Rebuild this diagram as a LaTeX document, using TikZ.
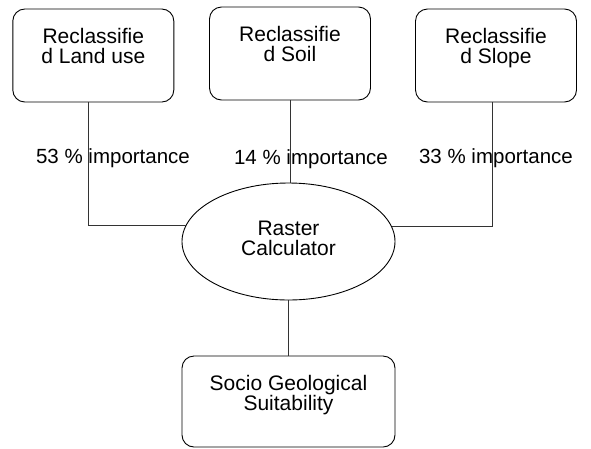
\documentclass[tikz,border=0pt]{standalone}
\usepackage{fontspec}
\setmainfont{Liberation Sans}
\usetikzlibrary{shapes.geometric,positioning}

\begin{document}
\begin{tikzpicture}[x=1pt,y=-1pt,
  box/.style={draw,rounded corners=12pt,minimum width=161pt,minimum height=93pt,line width=0.9pt},
  txt/.style={align=center,font=\fontsize{21}{20}\selectfont,inner sep=0pt},
  wt/.style={font=\fontsize{20.5}{19.5}\selectfont,inner sep=0pt,anchor=base},
  link/.style={line width=1pt,draw=black!80}]
  \useasboundingbox (0,0) rectangle (591,448);
  % input layers
  \node[box] (lu) at (93.3,55.5) {};
  \node[box] (soil) at (290,53.5) {};
  \node[box] (slope) at (496,55.5) {};
  \node[txt,below=20pt of lu.north] (lutxt) {Reclassifie\\d Land use};
  \node[txt,below=20pt of soil.north] (soiltxt) {Reclassifie\\d Soil};
  \node[txt,below=20pt of slope.north] (slopetxt) {Reclassifie\\d Slope};
  % calculator and result
  \node[draw,ellipse,line width=0.9pt,minimum width=213pt,minimum height=117pt,inner sep=0pt] (calc) at (288.5,241.5) {};
  \node[txt] (calctxt) at ([yshift=3pt]calc.center) {Raster\\Calculator};
  \node[box,minimum width=213pt,minimum height=91pt] (out) at (288.5,401.5) {};
  \node[txt,below=20pt of out.north] (outtxt) {Socio Geological\\Suitability};
  % weights
  \node[wt] (w1) at (113,163) {53 \% importance};
  \node[wt] (w2) at (311,164) {14 \% importance};
  \node[wt] (w3) at (496,163) {33 \% importance};
  % links
  \draw[link] ([xshift=-5pt]lu.south) |- (calc.171.4);
  \draw[link] (soil.south) -- (soil.south |- calc.north);
  \draw[link] ([xshift=-4pt]slope.south) |- (calc.8.6);
  \draw[link] (calc) -- (out);
\end{tikzpicture}
\end{document}
